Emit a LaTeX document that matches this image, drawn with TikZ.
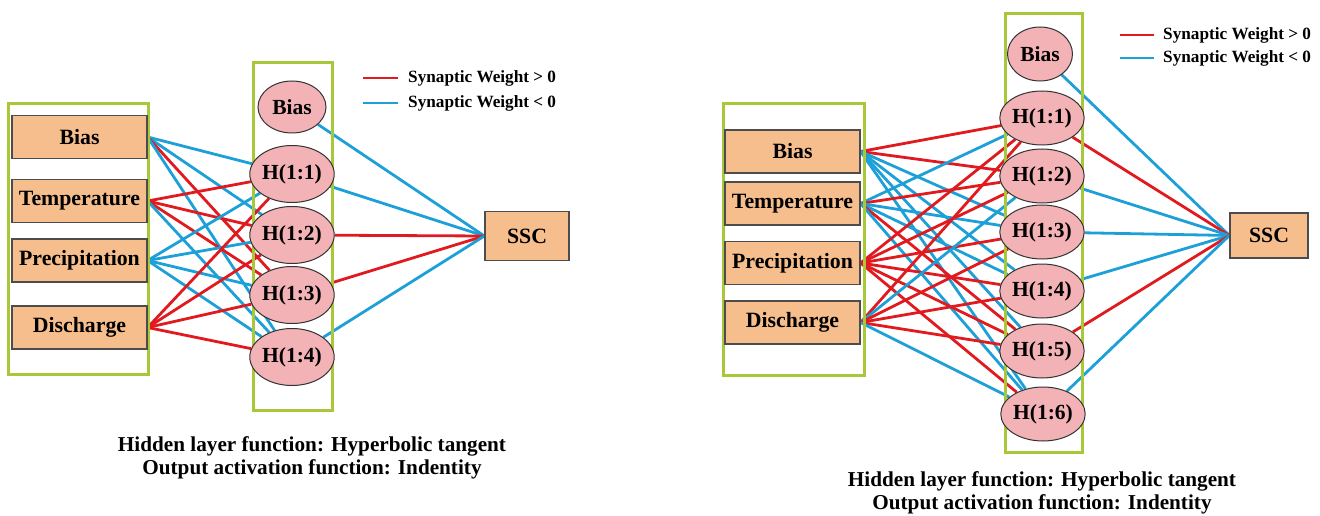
\documentclass[tikz,border=0pt]{standalone}
\usepackage{fontspec}
\setmainfont{Liberation Serif}
\usetikzlibrary{shapes.geometric,backgrounds}
\definecolor{peach}{HTML}{F6BE8C}
\definecolor{pinkfill}{HTML}{F2B2B6}
\definecolor{ggreen}{HTML}{A8C83A}
\definecolor{wred}{HTML}{E01A1E}
\definecolor{wblue}{HTML}{1DA0D8}
\tikzset{
  inbox/.style={draw=black!70, fill=peach, line width=1.2pt, minimum width=135, minimum height=43, inner sep=0pt, font=\bfseries\fontsize{21.8}{24}\selectfont},
  hnode/.style={ellipse, draw=black!80, fill=pinkfill, line width=1pt, minimum width=68, minimum height=56, inner sep=0pt, font=\bfseries\fontsize{21.5}{24}\selectfont},
  outbox/.style={draw=black!70, fill=peach, line width=1.2pt, inner sep=0pt, font=\bfseries\fontsize{21.8}{24}\selectfont},
  wpos/.style={draw=wred, line width=2.8pt},
  wneg/.style={draw=wblue, line width=2.8pt},
  groupbox/.style={draw=ggreen, line width=3pt},
  legtext/.style={anchor=west, inner sep=0pt, font=\bfseries\fontsize{17.2}{20}\selectfont},
  caption/.style={align=center, inner sep=0pt, font=\bfseries\fontsize{21.2}{23}\selectfont}
}
\begin{document}
\begin{tikzpicture}[x=1pt,y=-1pt]
\useasboundingbox (0,0) rectangle (1320,516);
% ---------- left network ----------
\node[inbox] (L1) at (79.5,137) {Bias};
\node[inbox] (L2) at (79.5,201) {Temperature};
\node[inbox] (L3) at (79.5,260.5) {Precipitation};
\node[inbox] (L4) at (79.5,327.5) {Discharge};
\node[hnode, minimum width=68, minimum height=52] (Lh0) at (292,107) {Bias};
\node[hnode, minimum width=70, minimum height=57] (Lh1) at (292,174) {H(1:1)};
\node[hnode, minimum width=70, minimum height=57] (Lh2) at (292,235) {H(1:2)};
\node[hnode, minimum width=70, minimum height=57] (Lh3) at (292,295) {H(1:3)};
\node[hnode, minimum width=70, minimum height=57] (Lh4) at (292,357) {H(1:4)};
\node[outbox, minimum width=84, minimum height=49] (Lssc) at (527,236) {SSC};
\coordinate (Lg1a) at (8,104);
\coordinate (Lg1b) at (148,374);
\coordinate (Lg2a) at (253,63);
\coordinate (Lg2b) at (332,410);
\coordinate (Llr1) at (363,78);
\coordinate (Llr2) at (398,78);
\coordinate (Llb1) at (363,103);
\coordinate (Llb2) at (398,103);
\node[legtext] (Llt1) at (408,78) {Synaptic Weight > 0};
\node[legtext] (Llt2) at (408,103) {Synaptic Weight < 0};
\node[caption] (Lcap) at (312,458) {Hidden layer function: Hyperbolic tangent\\Output activation function: Indentity};
% ---------- right network ----------
\node[inbox] (R1) at (792.5,151.5) {Bias};
\node[inbox] (R2) at (792.5,203.5) {Temperature};
\node[inbox] (R3) at (792.5,263) {Precipitation};
\node[inbox] (R4) at (792.5,322.5) {Discharge};
\node[hnode, minimum width=65, minimum height=54] (Rh0) at (1040,54) {Bias};
\node[hnode, minimum width=66, minimum height=54] (Rh1) at (1042,118) {H(1:1)};
\node[hnode, minimum width=66, minimum height=54] (Rh2) at (1042,176) {H(1:2)};
\node[hnode, minimum width=66, minimum height=54] (Rh3) at (1042,232) {H(1:3)};
\node[hnode, minimum width=66, minimum height=54] (Rh4) at (1042,291) {H(1:4)};
\node[hnode, minimum width=66, minimum height=54] (Rh5) at (1042,351) {H(1:5)};
\node[hnode, minimum width=66, minimum height=54] (Rh6) at (1043,414) {H(1:6)};
\node[outbox, minimum width=78, minimum height=45] (Rssc) at (1269,235.5) {SSC};
\coordinate (Rg1a) at (723,104);
\coordinate (Rg1b) at (864,375);
\coordinate (Rg2a) at (1005,14);
\coordinate (Rg2b) at (1082,452);
\coordinate (Rlr1) at (1120,35);
\coordinate (Rlr2) at (1154,35);
\coordinate (Rlb1) at (1120,58);
\coordinate (Rlb2) at (1154,58);
\node[legtext] (Rlt1) at (1163,35) {Synaptic Weight > 0};
\node[legtext] (Rlt2) at (1163,58) {Synaptic Weight < 0};
\node[caption] (Rcap) at (1042,493) {Hidden layer function: Hyperbolic tangent\\Output activation function: Indentity};
% ---------- connections ----------
\begin{scope}[on background layer]
  \foreach \i/\j/\s in {1/1/wneg,1/2/wneg,1/3/wpos,1/4/wneg,
                        2/1/wpos,2/2/wpos,2/3/wpos,2/4/wneg,
                        3/1/wneg,3/2/wneg,3/3/wneg,3/4/wneg,
                        4/1/wpos,4/2/wpos,4/3/wpos,4/4/wpos}
    \draw[\s] (L\i.east) -- (Lh\j);
  \foreach \j/\s in {0/wneg,1/wneg,2/wpos,3/wpos,4/wneg}
    \draw[\s] (Lh\j) -- (Lssc.west);
  \foreach \i/\j/\s in {1/1/wpos,1/2/wpos,1/3/wneg,1/4/wneg,1/5/wneg,1/6/wneg,
                        2/1/wneg,2/2/wpos,2/3/wneg,2/4/wneg,2/5/wpos,2/6/wneg,
                        3/1/wpos,3/2/wpos,3/3/wpos,3/4/wpos,3/5/wpos,3/6/wpos,
                        4/1/wpos,4/2/wneg,4/3/wpos,4/4/wpos,4/5/wpos,4/6/wneg}
    \draw[\s] (R\i.east) -- (Rh\j);
  \foreach \j/\s in {0/wneg,1/wpos,2/wneg,3/wneg,4/wneg,5/wpos,6/wneg}
    \draw[\s] (Rh\j) -- (Rssc.west);
  \draw[groupbox] (Lg1a) rectangle (Lg1b);
  \draw[groupbox] (Lg2a) rectangle (Lg2b);
  \draw[groupbox] (Rg1a) rectangle (Rg1b);
  \draw[groupbox] (Rg2a) rectangle (Rg2b);
\end{scope}
\draw[wpos] (Llr1) -- (Llr2);
\draw[wneg] (Llb1) -- (Llb2);
\draw[wpos] (Rlr1) -- (Rlr2);
\draw[wneg] (Rlb1) -- (Rlb2);
\end{tikzpicture}
\end{document}
